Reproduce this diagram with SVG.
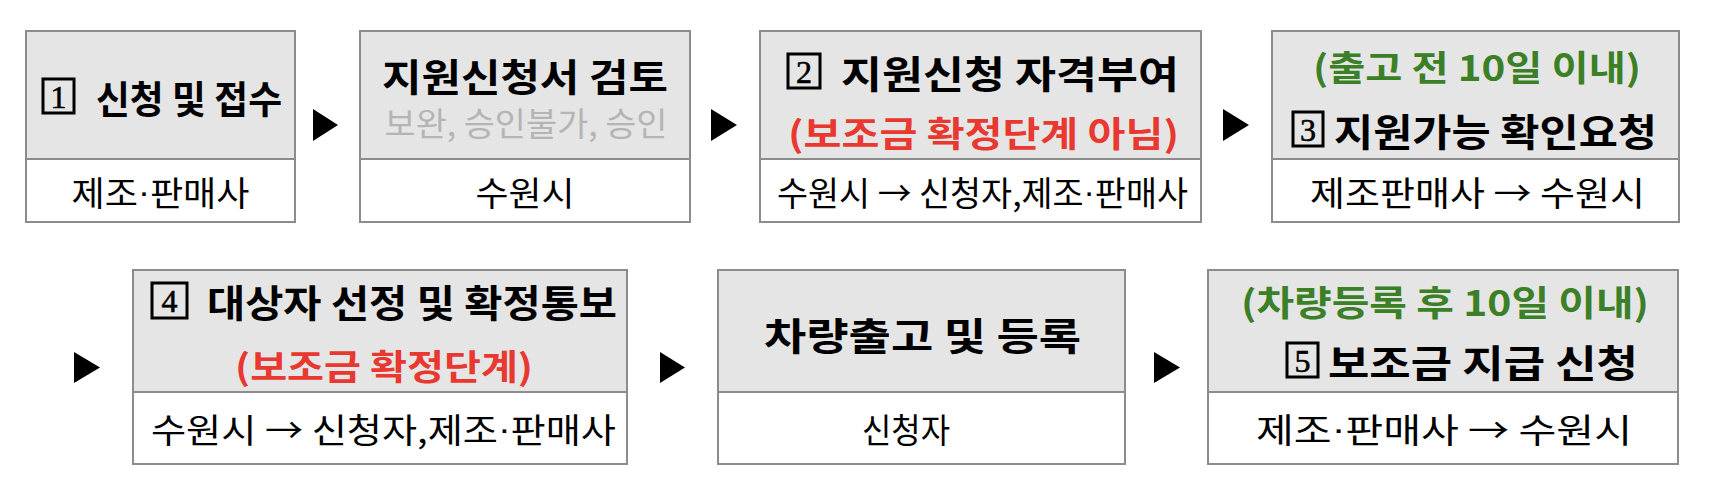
<svg xmlns="http://www.w3.org/2000/svg" width="1712" height="494" viewBox="0 0 1712 494" xml:space="preserve">
<style>
.hd{fill:#e5e5e5;stroke:#8c8c8c;stroke-width:2}
.bt{fill:#ffffff;stroke:#8c8c8c;stroke-width:2}
text{font-family:"Noto Sans CJK KR","Noto Sans",sans-serif;dominant-baseline:central;text-anchor:middle}
.b{font-size:38px;font-weight:700;fill:#000}
.s{font-size:34px;font-weight:400;fill:#000}
.g{font-size:33px;font-weight:400;fill:#b4b4b4}
.r{font-size:35px;font-weight:700;fill:#e8382f}
.gr{font-size:35px;font-weight:700;fill:#3b7f26}
.nb{fill:none;stroke:#000;stroke-width:3}
.nd{font-family:"Liberation Serif",serif;font-size:32px;font-weight:400;fill:#000;stroke:#000;stroke-width:0.6}
.dot{font-family:"Liberation Sans",sans-serif}
.ar{fill:#000}
</style>
<g id="connectors">
<polygon class="ar" points="313,109 338,125 313,141"/>
<polygon class="ar" points="711,109 737,125 711,141"/>
<polygon class="ar" points="1223,109 1249,125 1223,141"/>
<polygon class="ar" points="74,352 100,367.5 74,383"/>
<polygon class="ar" points="660,352 685,367.5 660,383"/>
<polygon class="ar" points="1154,352 1180,367.5 1154,383"/>
</g>
<g id="node1">
<rect class="hd" x="26" y="31" width="269" height="128"/>
<rect class="bt" x="26" y="159" width="269" height="63"/>
<rect class="nb" x="43" y="79" width="31" height="34"/>
<text class="nd" x="58.5" y="97">1</text>
<text class="b" x="189" y="96" textLength="186" lengthAdjust="spacingAndGlyphs">신청 및 접수</text>
<text class="s" x="160.5" y="191" textLength="178" lengthAdjust="spacingAndGlyphs">제조<tspan class="dot">·</tspan>판매사</text>
</g>
<g id="node2">
<rect class="hd" x="360" y="31" width="330" height="128"/>
<rect class="bt" x="360" y="159" width="330" height="63"/>
<text class="b" x="525" y="74" textLength="286" lengthAdjust="spacingAndGlyphs">지원신청서  검토</text>
<text class="g" x="526" y="122" textLength="283" lengthAdjust="spacingAndGlyphs">보완, 승인불가, 승인</text>
<text class="s" x="525" y="191" textLength="99" lengthAdjust="spacingAndGlyphs">수원시</text>
</g>
<g id="node3">
<rect class="hd" x="760" y="31" width="441" height="128"/>
<rect class="bt" x="760" y="159" width="441" height="63"/>
<rect class="nb" x="788" y="54" width="32" height="34"/>
<text class="nd" x="804" y="72">2</text>
<text class="b" x="1010" y="71" textLength="338" lengthAdjust="spacingAndGlyphs">지원신청  자격부여</text>
<text class="r" x="983.5" y="131" textLength="391" lengthAdjust="spacingAndGlyphs">(보조금  확정단계  아님)</text>
<text class="s" x="982.5" y="191" textLength="411" lengthAdjust="spacingAndGlyphs">수원시 → 신청자,제조<tspan class="dot">·</tspan>판매사</text>
</g>
<g id="node4">
<rect class="hd" x="1272" y="31" width="407" height="128"/>
<rect class="bt" x="1272" y="159" width="407" height="63"/>
<text class="gr" x="1477" y="65" textLength="328" lengthAdjust="spacingAndGlyphs">(출고  전  10일  이내)</text>
<rect class="nb" x="1293" y="112" width="30" height="34"/>
<text class="nd" x="1308" y="130">3</text>
<text class="b" x="1495.5" y="129" textLength="323" lengthAdjust="spacingAndGlyphs">지원가능 확인요청</text>
<text class="s" x="1477.5" y="191" textLength="335" lengthAdjust="spacingAndGlyphs">제조판매사  →  수원시</text>
</g>
<g id="node5">
<rect class="hd" x="133" y="270" width="494" height="122"/>
<rect class="bt" x="133" y="392" width="494" height="72"/>
<rect class="nb" x="152" y="283" width="35" height="35"/>
<text class="nd" x="169.5" y="301">4</text>
<text class="b" x="412" y="300" textLength="410" lengthAdjust="spacingAndGlyphs">대상자  선정  및  확정통보</text>
<text class="r" x="384" y="364" textLength="298" lengthAdjust="spacingAndGlyphs">(보조금  확정단계)</text>
<text class="s" x="383.5" y="428" textLength="465" lengthAdjust="spacingAndGlyphs">수원시  →  신청자,제조<tspan class="dot">·</tspan>판매사</text>
</g>
<g id="node6">
<rect class="hd" x="718" y="270" width="407" height="122"/>
<rect class="bt" x="718" y="392" width="407" height="72"/>
<text class="b" x="922.5" y="333" textLength="317" lengthAdjust="spacingAndGlyphs">차량출고  및  등록</text>
<text class="s" x="906" y="428" textLength="88" lengthAdjust="spacingAndGlyphs">신청자</text>
</g>
<g id="node7">
<rect class="hd" x="1208" y="270" width="470" height="122"/>
<rect class="bt" x="1208" y="392" width="470" height="72"/>
<text class="gr" x="1445" y="300" textLength="408" lengthAdjust="spacingAndGlyphs">(차량등록  후  10일  이내)</text>
<rect class="nb" x="1287" y="343" width="31" height="34"/>
<text class="nd" x="1302.5" y="361">5</text>
<text class="b" x="1483" y="360" textLength="310" lengthAdjust="spacingAndGlyphs">보조금  지급  신청</text>
<text class="s" x="1444" y="428" textLength="376" lengthAdjust="spacingAndGlyphs">제조<tspan class="dot">·</tspan>판매사  →  수원시</text>
</g>
</svg>
